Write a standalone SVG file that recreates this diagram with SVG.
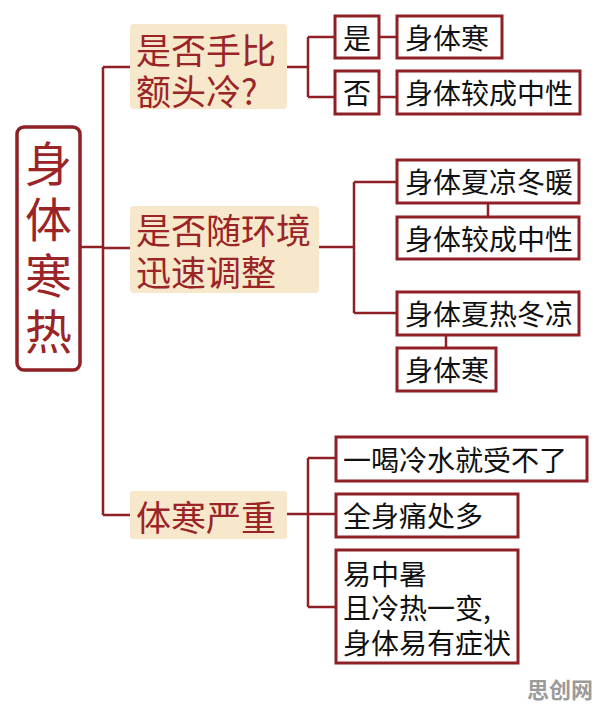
<svg xmlns="http://www.w3.org/2000/svg" width="596" height="707" viewBox="0 0 596 707">
<style>
.ln{fill:none;stroke:#8e2026;stroke-width:2.5}
.bx{fill:#fff;stroke:#8e2026;stroke-width:3}
.br{fill:#f7e8cb}
.t{font-family:"Noto Sans CJK SC","Noto Sans",sans-serif;dominant-baseline:central}
.lf{font-size:28px;fill:#111}
.bt{font-size:35px;fill:#9a2426}
</style>
<rect width="596" height="707" fill="#fff"/>
<g id="connectors">
<path class="ln" d="M80,247 H103 M103,67 V515 M103,67 H130 M103,248 H130 M103,515 H130"/>
<path class="ln" d="M287,67 H308 M308,37 V97 M308,37 H335 M308,97 H335 M379,37 H397 M379,97 H397"/>
<path class="ln" d="M319,247 H354 M354,182 V313 M354,182 H397 M354,313 H397 M488,203 V217 M446,335 V348"/>
<path class="ln" d="M287,514 H336 M308,458 V607 M308,458 H336 M308,607 H336"/>
</g>
<g id="root">
<rect x="17" y="127" width="63" height="243" rx="7" fill="#fff" stroke="#8e2026" stroke-width="3.5"/>
<text class="t" x="48.5" y="140" writing-mode="vertical-rl" font-size="47" letter-spacing="9" fill="#9a2426">身体寒热</text>
</g>
<g id="branch1">
<rect class="br" x="130" y="24" width="157" height="85" rx="4"/>
<text class="t bt" x="136" y="48">是否手比<tspan x="136" dy="41">额头冷?</tspan></text>
</g>
<g id="branch2">
<rect class="br" x="130" y="206" width="189" height="87" rx="4"/>
<text class="t bt" x="136" y="228">是否随环境<tspan x="136" dy="42">迅速调整</tspan></text>
</g>
<g id="branch3">
<rect class="br" x="130" y="491" width="157" height="48" rx="3"/>
<text class="t bt" x="136" y="515">体寒严重</text>
</g>
<g id="yes">
<rect class="bx" x="335" y="16" width="44" height="42"/>
<text class="t lf" x="357" y="37" text-anchor="middle">是</text>
</g>
<g id="no">
<rect class="bx" x="335" y="71" width="44" height="43"/>
<text class="t lf" x="357" y="92" text-anchor="middle">否</text>
</g>
<g id="leaf1">
<rect class="bx" x="397" y="16" width="105" height="42"/>
<text class="t lf" x="405" y="37">身体寒</text>
</g>
<g id="leaf2">
<rect class="bx" x="397" y="71" width="183" height="43"/>
<text class="t lf" x="405" y="92">身体较成中性</text>
</g>
<g id="leaf3">
<rect class="bx" x="397" y="160" width="182" height="43"/>
<text class="t lf" x="405" y="181">身体夏凉冬暖</text>
</g>
<g id="leaf4">
<rect class="bx" x="397" y="217" width="182" height="42"/>
<text class="t lf" x="405" y="238">身体较成中性</text>
</g>
<g id="leaf5">
<rect class="bx" x="397" y="292" width="182" height="43"/>
<text class="t lf" x="405" y="313">身体夏热冬凉</text>
</g>
<g id="leaf6">
<rect class="bx" x="397" y="348" width="99" height="43"/>
<text class="t lf" x="405" y="369">身体寒</text>
</g>
<g id="leaf7">
<rect class="bx" x="336" y="437" width="251" height="44"/>
<text class="t lf" x="343" y="459">一喝冷水就受不了</text>
</g>
<g id="leaf8">
<rect class="bx" x="336" y="494" width="182" height="43"/>
<text class="t lf" x="343" y="515">全身痛处多</text>
</g>
<g id="leaf9">
<rect class="bx" x="336" y="550" width="182" height="113"/>
<text class="t lf" x="343" y="573">易中暑<tspan x="343" dy="34">且冷热一变,</tspan><tspan x="343" dy="35">身体易有症状</tspan></text>
</g>
<text class="t" x="560" y="688" text-anchor="middle" font-size="22" font-weight="bold" fill="#9b9b9b">思创网</text>
</svg>
